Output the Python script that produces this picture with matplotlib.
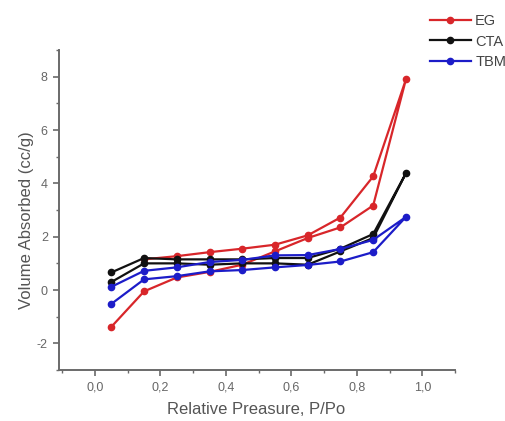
import matplotlib.pyplot as plt
from matplotlib.ticker import MultipleLocator, FuncFormatter

plt.rcParams['font.family'] = ['Liberation Sans', 'DejaVu Sans']

# relative pressure: adsorption up, desorption back down
p_up = [0.05, 0.15, 0.25, 0.35, 0.45, 0.55, 0.65, 0.75, 0.85, 0.95]
p_down = [0.85, 0.75, 0.65, 0.55, 0.45, 0.35, 0.25, 0.15]

eg_up = [-1.38, -0.05, 0.47, 0.68, 0.95, 1.45, 1.95, 2.35, 3.17, 7.9]
eg_down = [4.26, 2.72, 2.05, 1.7, 1.55, 1.42, 1.27, 1.15]

cta_up = [0.3, 1.0, 1.0, 0.95, 1.0, 1.0, 0.95, 1.45, 1.95, 4.38]
cta_down = [2.1, 1.55, 1.2, 1.2, 1.15, 1.15, 1.15, 1.2]
cta_start = 0.66

tbm_up = [-0.52, 0.4, 0.52, 0.7, 0.75, 0.85, 0.94, 1.07, 1.42, 2.74]
tbm_down = [1.88, 1.54, 1.31, 1.3, 1.13, 1.05, 0.85, 0.72]
tbm_start = 0.12

series = [
    ("EG", "#d8262a", eg_up, eg_down, None),
    ("CTA", "#111111", cta_up, cta_down, cta_start),
    ("TBM", "#1c1cc8", tbm_up, tbm_down, tbm_start),
]

fig = plt.figure(figsize=(5.05, 4.21), dpi=100)
ax = fig.add_axes([0.1168, 0.1211, 0.7842, 0.760])

handles = []
for name, col, up, down, start in series:
    xs = p_up + p_down
    ys = up + down
    if start is not None:
        xs = xs + [0.05]
        ys = ys + [start]
    ln, = ax.plot(xs, ys, '-o', color=col, lw=1.6, ms=4.5, label=name)
    handles.append(ln)

ax.set_xlim(-0.11, 1.1)
ax.set_ylim(-3, 9)

for s in ['top', 'right']:
    ax.spines[s].set_visible(False)
for s in ['left', 'bottom']:
    ax.spines[s].set_color('#6a6a6a')
    ax.spines[s].set_linewidth(1.4)

ax.xaxis.set_major_locator(MultipleLocator(0.2))
ax.xaxis.set_minor_locator(MultipleLocator(0.1))
ax.yaxis.set_major_locator(MultipleLocator(2))
ax.yaxis.set_minor_locator(MultipleLocator(1))
ax.xaxis.set_major_formatter(FuncFormatter(lambda v, p: f"{v:.1f}".replace('.', ',')))
ax.yaxis.set_major_formatter(FuncFormatter(lambda v, p: f"{v:.0f}"))
ax.tick_params(which='major', direction='out', length=4, width=1.2,
               color='#6a6a6a', labelcolor='#666666', labelsize=9, pad=4)
ax.tick_params(which='minor', direction='out', length=2.5, width=1.0, color='#6a6a6a')

ax.set_xlabel("Relative Preasure, P/Po", fontsize=12, color='#555555')
ax.set_ylabel("Volume Absorbed (cc/g)", fontsize=12, color='#555555')
ax.xaxis.set_label_coords(0.497, -0.1)
ax.yaxis.set_label_coords(-0.062, 0.47)

fig.legend(handles=handles, loc='upper left', bbox_to_anchor=(430 / 505, 1 - 14 / 421),
           frameon=False, borderpad=0, borderaxespad=0, handlelength=2.8,
           handletextpad=0.3, labelspacing=0.45, fontsize=10.5,
           labelcolor='#444444')

fig.savefig("out.png", dpi=100)
